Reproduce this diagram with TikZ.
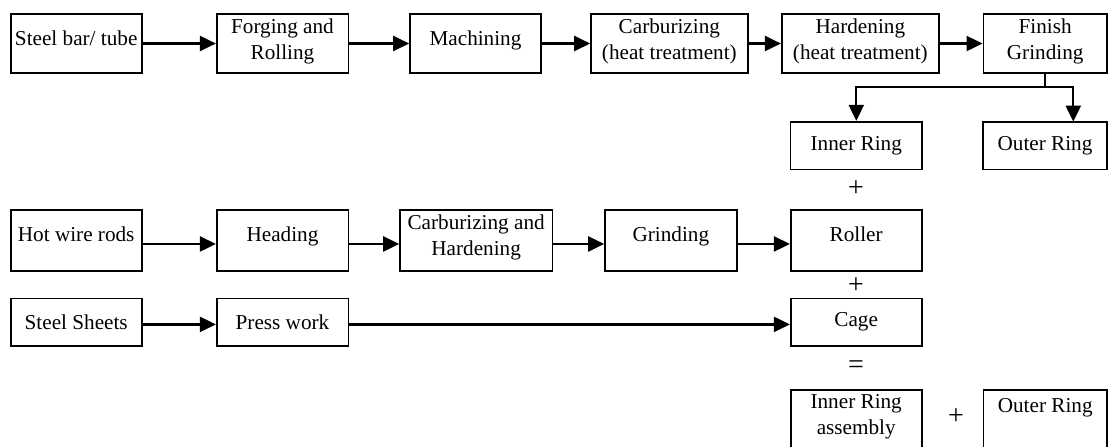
\documentclass[tikz,border=0pt]{standalone}
\usepackage{fontspec}
\setmainfont{Liberation Serif}
\usetikzlibrary{arrows.meta}

% strut that pushes the text of a box upwards
\newcommand{\txtdrop}[1]{\rule[-#1]{0pt}{#1}}

\begin{document}
\begin{tikzpicture}[x=0.5pt, y=-0.5pt,
    font=\fontsize{10.6}{13}\selectfont,
    box/.style={draw, line width=0.8pt, inner sep=0pt, align=center},
    flow/.style={line width=1.1pt, -{Triangle[length=8pt, width=7.5pt]}},
    sign/.style={inner sep=0pt, font=\fontsize{14}{16}\selectfont}]
    \useasboundingbox (0,0) rectangle (1109,446);
    \clip (0,0) rectangle (1109,446);

    % rings
    \begin{scope}[every node/.append style={box, minimum height=29.5pt}]
    \node[minimum width=65.5pt] (steelbar) at (76.2,43.5) {Steel bar/ tube\txtdrop{5.5pt}};
    \node[minimum width=65.8pt] (forging) at (282.5,43.5) {Forging and\\Rolling\txtdrop{4.5pt}};
    \node[minimum width=65.5pt] (machining) at (475.5,43.5) {Machining\txtdrop{5.5pt}};
    \node[minimum width=78.35pt] (carbur) at (669.35,43.5) {Carburizing\\(heat treatment)\txtdrop{4.5pt}};
    \node[minimum width=78.65pt] (harden) at (860.35,43.5) {Hardening\\(heat treatment)\txtdrop{4.5pt}};
    \node[minimum width=61.85pt] (finish) at (1045.2,43.5) {Finish\\Grinding\txtdrop{4.5pt}};
    \end{scope}
    \node[box, minimum width=65.7pt, minimum height=23.8pt] (innerring) at (856.3,145.5) {Inner Ring};
    \node[box, minimum width=62pt, minimum height=23.8pt] (outerring) at (1045,145.5) {Outer Ring};

    \draw[flow] (steelbar) -- (forging);
    \draw[flow] (forging) -- (machining);
    \draw[flow] (machining) -- (carbur);
    \draw[flow] (carbur) -- (harden);
    \draw[flow] (harden) -- (finish);
    \coordinate (split) at (1045.2,87);
    \coordinate (outerin) at (1073.3,121.7);
    \draw[line width=1.1pt] (finish.south) -- (split);
    \draw[flow] (split) -| (innerring.north);
    \draw[flow] (split) -| (outerin);

    % rollers
    \begin{scope}[every node/.append style={box, minimum height=30.35pt}]
    \node[minimum width=65.5pt] (hotwire) at (76.2,240.35) {Hot wire rods\txtdrop{6pt}};
    \node[minimum width=65.8pt] (heading) at (282.5,240.35) {Heading\txtdrop{6pt}};
    \node[minimum width=76.15pt] (carbhard) at (476.15,240.35) {Carburizing and\\Hardening\txtdrop{5pt}};
    \node[minimum width=65.85pt] (grinding) at (670.85,240.35) {Grinding\txtdrop{6pt}};
    \node[minimum width=65.5pt] (roller) at (856.2,240.35) {Roller\txtdrop{6pt}};
    \end{scope}
    \draw[flow] ([yshift=-1.8pt]hotwire.east) -- ([yshift=-1.8pt]heading.west);
    \draw[flow] ([yshift=-1.8pt]heading.east) -- ([yshift=-1.8pt]carbhard.west);
    \draw[flow] ([yshift=-1.8pt]carbhard.east) -- ([yshift=-1.8pt]grinding.west);
    \draw[flow] ([yshift=-1.8pt]grinding.east) -- ([yshift=-1.8pt]roller.west);

    % cage
    \begin{scope}[every node/.append style={box, minimum height=23.7pt}]
    \node[minimum width=65.5pt] (sheets) at (76.2,322) {Steel Sheets};
    \node[minimum width=65.8pt] (press) at (282.5,322) {Press work};
    \node[minimum width=65.5pt] (cage) at (856.2,322) {Cage};
    \end{scope}
    \draw[flow] ([yshift=-1.2pt]sheets.east) -- ([yshift=-1.2pt]press.west);
    \draw[flow] ([yshift=-1.2pt]press.east) -- ([yshift=-1.2pt]cage.west);

    % assembly
    \node[box, minimum width=65.5pt, minimum height=30pt] (assembly) at (856.2,420) {Inner Ring\\assembly\txtdrop{5.2pt}};
    \node[box, minimum width=61.85pt, minimum height=30pt] (outerfinal) at (1045.2,420) {Outer Ring\txtdrop{15pt}};

    \node[sign] (plusA) at (856,189) {+};
    \node[sign] (plusB) at (856,286) {+};
    \node[sign] (equal) at (856,367) {=};
    \node[sign] (plusC) at (956,417) {+};
\end{tikzpicture}
\end{document}
